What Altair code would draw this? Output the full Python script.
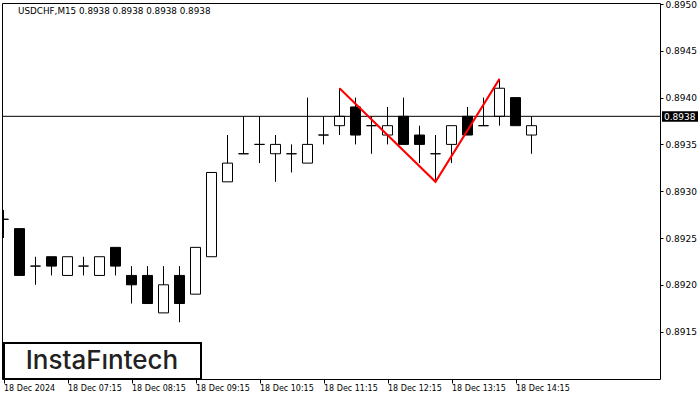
import altair as alt
import pandas as pd

# ---- data ----
idx = list(range(34))
open_ = [0.8927, 0.8926, 0.8922, 0.8923, 0.8921, 0.8922, 0.8921, 0.8924, 0.8921, 0.8921,
         0.8917, 0.8921, 0.8919, 0.8923, 0.8931, 0.8934, 0.8935, 0.8934, 0.8934, 0.8933,
         0.8936, 0.8937, 0.8939, 0.8937, 0.8936, 0.8938, 0.8936, 0.8934, 0.8935, 0.8938,
         0.8937, 0.8938, 0.8940, 0.8936]
high_ = [0.8928, 0.8926, 0.8923, 0.8923, 0.8923, 0.8923, 0.8923, 0.8924, 0.8922, 0.8922,
         0.8922, 0.8922, 0.8924, 0.8932, 0.8936, 0.8938, 0.8938, 0.8936, 0.8935, 0.8940,
         0.8938, 0.8941, 0.8940, 0.8938, 0.8939, 0.8940, 0.8937, 0.8936, 0.8937, 0.8939,
         0.8940, 0.8942, 0.8940, 0.8938]
low_ = [0.8925, 0.8921, 0.8920, 0.8921, 0.8921, 0.8921, 0.8921, 0.8921, 0.8918, 0.8918,
        0.8917, 0.8916, 0.8919, 0.8923, 0.8931, 0.8934, 0.8933, 0.8931, 0.8932, 0.8933,
        0.8935, 0.8936, 0.8935, 0.8934, 0.8935, 0.8935, 0.8933, 0.8931, 0.8933, 0.8936,
        0.8937, 0.8937, 0.8937, 0.8934]
close_ = [0.8927, 0.8921, 0.8922, 0.8922, 0.8923, 0.8922, 0.8923, 0.8922, 0.8920, 0.8918,
          0.8920, 0.8918, 0.8924, 0.8932, 0.8933, 0.8934, 0.8935, 0.8935, 0.8934, 0.8935,
          0.8936, 0.8938, 0.8936, 0.8937, 0.8937, 0.8935, 0.8935, 0.8934, 0.8937, 0.8936,
          0.8937, 0.8941, 0.8937, 0.8937]

x_tick_idx = [0, 4, 8, 12, 16, 20, 24, 28, 32]
x_tick_labels = ["18 Dec 2024", "18 Dec 07:15", "18 Dec 08:15", "18 Dec 09:15",
                 "18 Dec 10:15", "18 Dec 11:15", "18 Dec 12:15", "18 Dec 13:15",
                 "18 Dec 14:15"]
y_ticks = [0.8915, 0.8920, 0.8925, 0.8930, 0.8935, 0.8940, 0.8945, 0.8950]

pattern_idx = [21, 27, 31]
pattern_price = [0.89410, 0.89310, 0.89420]

current_price = 0.8938
title_text = "USDCHF,M15  0.8938 0.8938 0.8938 0.8938"
logo_text = "InstaF\u0131ntech"

# ---- tables ----
df = pd.DataFrame({"i": idx, "open": open_, "high": high_, "low": low_, "close": close_})
pat = pd.DataFrame({"i": pattern_idx, "p": pattern_price})
cur = pd.DataFrame({"p": [current_price], "label": [f"{current_price:.4f}"]})

W, H = 658, 376
FONT = "DejaVu Sans"

xscale = alt.Scale(domain=[-1.5 / 16, -1.5 / 16 + W / 16], nice=False, zero=False, padding=0)
yscale = alt.Scale(domain=[0.8950 - 375 / 93600, 0.8950 + 1 / 93600], nice=False, zero=False,
                   padding=0)

label_arr = "[" + ",".join(f"'{s}'" for s in x_tick_labels) + "]"

xaxis = alt.Axis(values=x_tick_idx, labelExpr=f"{label_arr}[round(datum.value/4)]",
                 orient="bottom", domain=False, grid=False, tickSize=4, tickColor="black",
                 labelAlign="left", labelBaseline="top", labelPadding=1, labelFlush=False,
                 labelOverlap=False, labelFont=FONT, labelFontSize=8, labelColor="black",
                 title=None)
yaxis = alt.Axis(values=y_ticks, format=".4f", orient="right", domain=False, grid=False,
                 tickSize=3, tickColor="black", labelPadding=2, labelFlush=False,
                 labelOverlap=False, labelFont=FONT, labelFontSize=9, labelColor="black",
                 labelBaseline="middle", title=None)

base = alt.Chart(df)

wicks = base.mark_rule(color="black", strokeWidth=1, clip=True).encode(
    x=alt.X("i:Q", scale=xscale, axis=xaxis),
    y=alt.Y("low:Q", scale=yscale, axis=yaxis),
    y2="high:Q",
)

bodies = base.mark_bar(size=10, stroke="black", strokeWidth=1, clip=True,
                       orient="vertical").encode(
    x=alt.X("i:Q", scale=xscale),
    y=alt.Y("open:Q", scale=yscale),
    y2="close:Q",
    fill=alt.condition("datum.close < datum.open", alt.value("black"), alt.value("white")),
)

hline = alt.Chart(cur).mark_rule(color="black", strokeWidth=1).encode(
    y=alt.Y("p:Q", scale=yscale)
)

red = alt.Chart(pat).mark_line(color="#ff0000", strokeWidth=2).encode(
    x=alt.X("i:Q", scale=xscale),
    y=alt.Y("p:Q", scale=yscale),
)

price_box = alt.Chart(cur).mark_rect(color="black", yOffset=-5, y2Offset=5.5).encode(
    x=alt.value(W + 2), x2=alt.value(W + 38),
    y=alt.Y("p:Q", scale=yscale), y2="p:Q",
)
price_txt = alt.Chart(cur).mark_text(color="white", font=FONT, fontSize=9, align="left",
                                     baseline="middle", dy=0.5).encode(
    x=alt.value(W + 4),
    y=alt.Y("p:Q", scale=yscale),
    text="label:N",
)

title = alt.Chart(cur).mark_text(font=FONT, fontSize=8.8, align="left", baseline="middle",
                                 color="black").encode(
    x=alt.value(16), y=alt.value(8), text=alt.value(title_text)
)

logo_box = alt.Chart(cur).mark_rect(fill="white", stroke="black", strokeWidth=2).encode(
    x=alt.value(2), x2=alt.value(199), y=alt.value(340), y2=alt.value(376)
)
logo_txt = alt.Chart(cur).mark_text(font="Inter", fontSize=26, fontWeight=500,
                                    align="center", baseline="middle",
                                    color="#222222").encode(
    x=alt.value(100), y=alt.value(358), text=alt.value(logo_text)
)

chart = alt.layer(wicks, bodies, hline, red, price_box, price_txt, title,
                  logo_box, logo_txt).properties(
    width=W, height=H,
    autosize=alt.AutoSizeParams(type="none"),
    padding={"left": 2, "top": 3, "right": 40, "bottom": 21},
    background="white",
).configure_view(stroke="black", strokeWidth=1)

chart.save("out.html", embed_options={"renderer": "svg", "actions": False})
